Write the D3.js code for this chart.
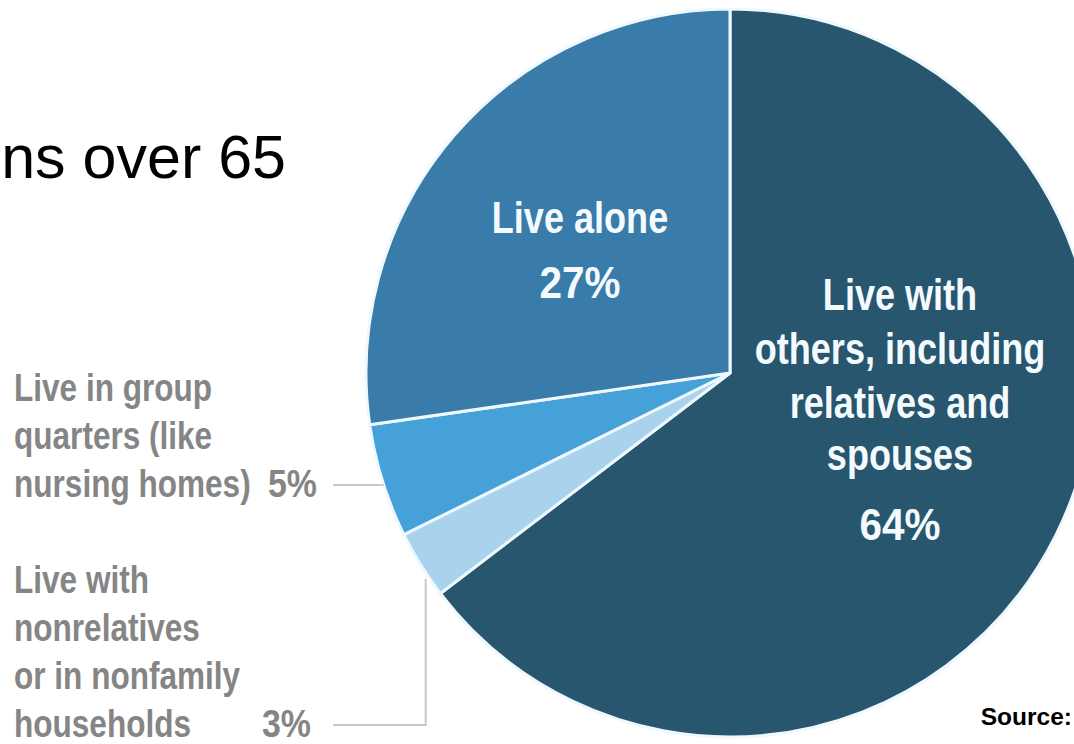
<!DOCTYPE html>
<html>
<head>
<meta charset="utf-8">
<script src="https://cdn.jsdelivr.net/npm/d3@7"></script>
<style>
  html, body { margin: 0; padding: 0; background: #ffffff; overflow: hidden; }
  svg { display: block; }
  .narrow { font-family: "Liberation Sans", Arial, sans-serif; font-weight: bold; }
</style>
</head>
<body>
<div id="chart"></div>
<script>
// living arrangements, order is clockwise from 12 o'clock
const CATEGORIES = ["others", "nonrelatives", "group", "alone"];
const SHARES = [64, 3, 5, 27];
const SLICE_COLORS = ["#28566f", "#a9d2ec", "#47a1d9", "#3a7ca9"];

const INSIDE_LABELS = {
  alone: ["Live alone", "27%"],
  others: ["Live with", "others, including", "relatives and", "spouses", "64%"],
};
const OUTSIDE_LABELS = {
  group: { lines: ["Live in group", "quarters (like", "nursing homes)"], pct: "5%" },
  nonrelatives: { lines: ["Live with", "nonrelatives", "or in nonfamily", "households"], pct: "3%" },
};

const WIDTH = 1074;
const HEIGHT = 744;
const CX = 730;
const CY = 373;
const R = 364;
// fake a condensed face, no narrow font installed; digits run a bit wider
const SQUEEZE = 0.82;
const SQUEEZE_PCT = 0.92;

const svg = d3.select("#chart")
  .append("svg")
  .attr("width", WIDTH)
  .attr("height", HEIGHT);

function narrowText(parent, x, y, size, fill, anchor, str, squeeze = SQUEEZE) {
  return parent.append("text")
    .attr("class", "narrow")
    .attr("transform", `translate(${x},${y}) scale(${squeeze},1)`)
    .attr("text-anchor", anchor)
    .attr("font-size", size)
    .attr("fill", fill)
    .text(str);
}

const isPct = (s) => s.endsWith("%");

// title tail, as it shows in the picture
svg.append("text")
  .attr("x", 286)
  .attr("y", 178)
  .attr("text-anchor", "end")
  .attr("font-family", "'Liberation Sans', Arial, sans-serif")
  .attr("font-size", 61)
  .attr("fill", "#000")
  .text("ns over 65");

const pie = d3.pie().sort(null).value((d) => d.value);
const arcs = pie(CATEGORIES.map((c, i) => ({ key: c, value: SHARES[i], color: SLICE_COLORS[i] })));
const arc = d3.arc().innerRadius(0).outerRadius(R);

const g = svg.append("g").attr("transform", `translate(${CX},${CY})`);

g.selectAll("path.slice")
  .data(arcs)
  .join("path")
  .attr("class", "slice")
  .attr("d", arc)
  .attr("fill", (d) => d.data.color)
  .attr("stroke", "#eef8fe")
  .attr("stroke-width", 3)
  .attr("stroke-linejoin", "round");

// inside labels
const inside = [
  { key: "alone", x: -150, y: -140, gap: [0, 65] },
  { key: "others", x: 170, y: -63, gap: [0, 54, 54, 52, 70] },
];
inside.forEach((lab) => {
  let yy = lab.y;
  INSIDE_LABELS[lab.key].forEach((line, i) => {
    yy += lab.gap[i];
    narrowText(g, lab.x, yy, 44, "#f4fbff", "middle", line, isPct(line) ? SQUEEZE_PCT : SQUEEZE);
  });
});

// outside labels with leader lines
const GREY = "#858585";
const LINE_GREY = "#c9c9c9";
const outside = [
  { key: "group", top: 401, pctX: 268 },
  { key: "nonrelatives", top: 593, pctX: 262 },
];
outside.forEach((lab) => {
  const info = OUTSIDE_LABELS[lab.key];
  info.lines.forEach((line, i) => {
    narrowText(svg, 14, lab.top + i * 48, 38.5, GREY, "start", line);
  });
  const lastY = lab.top + (info.lines.length - 1) * 48;
  narrowText(svg, lab.pctX, lastY, 38.5, GREY, "start", info.pct, 0.88);
  lab.lineY = lastY - 12;
});

// 5% leader: straight across to the pie edge
const y5 = outside[0].lineY;
const x5 = CX - Math.sqrt(R * R - (y5 - CY) * (y5 - CY));
svg.append("line")
  .attr("x1", 333).attr("y1", y5)
  .attr("x2", x5).attr("y2", y5)
  .attr("stroke", LINE_GREY).attr("stroke-width", 2);

// 3% leader: across, then up towards the pie edge
const y3 = outside[1].lineY;
const slice3 = arcs.find((d) => d.data.key === "nonrelatives");
const mid3 = (slice3.startAngle + slice3.endAngle) / 2;
const x3 = CX + R * Math.sin(mid3) + 5;
const top3 = CY + Math.sqrt(R * R - (x3 - CX) * (x3 - CX)) + 6;
svg.append("path")
  .attr("d", `M333,${y3} H${x3} V${top3}`)
  .attr("fill", "none")
  .attr("stroke", LINE_GREY).attr("stroke-width", 2);

svg.append("text")
  .attr("x", WIDTH - 2)
  .attr("y", 725)
  .attr("text-anchor", "end")
  .attr("font-family", "'Liberation Sans', Arial, sans-serif")
  .attr("font-weight", "bold")
  .attr("font-size", 24.5)
  .attr("fill", "#000")
  .text("Source:");
</script>
</body>
</html>
